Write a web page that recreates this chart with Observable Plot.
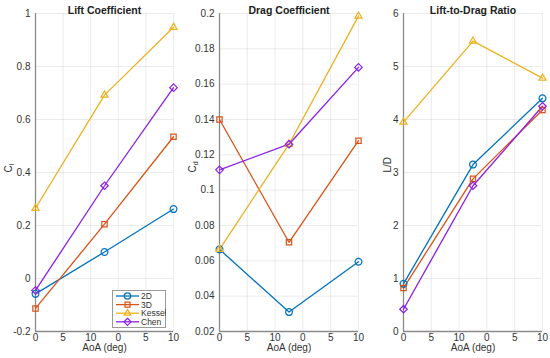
<!DOCTYPE html>
<html>
<head>
<meta charset="utf-8">
<script src="https://cdn.jsdelivr.net/npm/d3@7"></script>
<script src="https://cdn.jsdelivr.net/npm/@observablehq/plot@0.6"></script>
<style>
  html, body { margin: 0; padding: 0; background: #fff; }
  #wrap { position: relative; width: 550px; height: 358px; overflow: hidden; font-family: "Liberation Sans", Arial, sans-serif; }
  #wrap svg { position: absolute; top: 0; }
</style>
</head>
<body>
<div id="wrap"></div>
<script>
// ---- data ----
const seriesNames = ["2D", "3D", "Kessel", "Chen"];
const seriesColors = ["#0072BD", "#D95319", "#EDB120", "#8B1FE6"];
const seriesSymbols = ["circle", "square2", "triangle2", "diamond2"];
const xPositions = [0, 12.5, 25];
const xTicks = [0, 5, 10, 15, 20, 25];
const xTickLabels = ["0", "5", "10", "0", "5", "10"];

const lift2D = [-0.058, 0.100, 0.262];
const lift3D = [-0.113, 0.205, 0.535];
const liftKessel = [0.265, 0.692, 0.948];
const liftChen = [-0.045, 0.350, 0.720];

const drag2D = [0.0665, 0.031, 0.0595];
const drag3D = [0.140, 0.0705, 0.128];
const dragKessel = [0.0665, 0.126, 0.1985];
const dragChen = [0.1115, 0.126, 0.1695];

const ld2D = [0.90, 3.15, 4.40];
const ld3D = [0.82, 2.88, 4.18];
const ldKessel = [3.95, 5.48, 4.78];
const ldChen = [0.42, 2.75, 4.25];

const liftTicks = [-0.2, 0, 0.2, 0.4, 0.6, 0.8, 1];
const dragTicks = [0.02, 0.04, 0.06, 0.08, 0.1, 0.12, 0.14, 0.16, 0.18, 0.2];
const ldTicks = [0, 1, 2, 3, 4, 5, 6];

function table(arrs) {
  const rows = [];
  arrs.forEach((vals, si) => vals.forEach((v, i) => rows.push({x: xPositions[i], y: v, s: seriesNames[si]})));
  return rows;
}

const wrap = document.getElementById("wrap");

function panel({left, width, mL, mR, data, yDomain, yTicks, title, ylabel, ylabelDx}) {
  const rows = table(data);
  const yMin = yDomain[0];
  const svg = Plot.plot({
    width, height: 358,
    marginLeft: mL, marginRight: mR, marginTop: 13, marginBottom: 27,
    style: {fontFamily: "Liberation Sans, Arial, sans-serif", fontSize: "10px", color: "#333", background: "transparent", overflow: "visible"},
    x: {domain: [0, 25], ticks: xTicks, tickFormat: (d) => xTickLabels[xTicks.indexOf(d)], label: null, tickSize: 0, tickPadding: 2},
    y: {domain: yDomain, ticks: yTicks, tickFormat: (d) => String(+d.toFixed(4)), label: null, tickSize: 0, tickPadding: 5},
    color: {domain: seriesNames, range: seriesColors},
    symbol: {domain: seriesNames, range: seriesSymbols},
    marks: [
      Plot.gridX(xTicks, {stroke: "#000", strokeOpacity: 0.08}),
      Plot.gridY(yTicks, {stroke: "#000", strokeOpacity: 0.08}),
      Plot.ruleX([0], {stroke: "#8a8a8a", strokeWidth: 1.3}),
      Plot.ruleY([yMin], {stroke: "#8a8a8a", strokeWidth: 1.3}),
      Plot.line(rows, {x: "x", y: "y", z: "s", stroke: "s", strokeWidth: 1.3}),
      Plot.dot(rows, {x: "x", y: "y", stroke: "s", symbol: "s", r: 3.4, strokeWidth: 1.2, fill: "none"}),
      Plot.text([title], {frameAnchor: "top", dy: -7, fontWeight: "bold", fontSize: 10.5, fill: "#222"}),
      Plot.text(["AoA (deg)"], {frameAnchor: "bottom", dy: 19, fontSize: 10, fill: "#333"}),
      Plot.text([ylabel], {frameAnchor: "left", dx: ylabelDx, rotate: -90, fontSize: 10, fill: "#333"})
    ]
  });
  svg.style.left = left + "px";
  // subscripts for C_l / C_d
  d3.select(svg).selectAll("text").each(function () {
    const t = this.textContent;
    if (t === "C_l" || t === "C_d") {
      const el = d3.select(this);
      el.text("C");
      el.append("tspan").attr("font-size", 7).attr("dy", "0.35em").text(t.slice(2));
    }
  });
  wrap.appendChild(svg);
  return svg;
}

panel({left: 0, width: 185, mL: 35, mR: 12, data: [lift2D, lift3D, liftKessel, liftChen], yDomain: [-0.2, 1], yTicks: liftTicks, title: "Lift Coefficient", ylabel: "C_l", ylabelDx: -27});
panel({left: 185, width: 182, mL: 34, mR: 9, data: [drag2D, drag3D, dragKessel, dragChen], yDomain: [0.02, 0.2], yTicks: dragTicks, title: "Drag Coefficient", ylabel: "C_d", ylabelDx: -27});
panel({left: 367, width: 183, mL: 36, mR: 8, data: [ld2D, ld3D, ldKessel, ldChen], yDomain: [0, 6], yTicks: ldTicks, title: "Lift-to-Drag Ratio", ylabel: "L/D", ylabelDx: -16});

// ---- legend (in first panel) ----
const leg = d3.select(wrap).append("svg")
  .attr("width", 54).attr("height", 38)
  .style("left", "112px").style("top", "290px");
leg.append("rect").attr("x", 0.5).attr("y", 0.5).attr("width", 53).attr("height", 37)
  .attr("fill", "#fff").attr("stroke", "#9a9a9a").attr("stroke-width", 1);
const symMap = {circle: d3.symbolCircle, square2: d3.symbolSquare2, triangle2: d3.symbolTriangle2, diamond2: d3.symbolDiamond2};
seriesNames.forEach((name, i) => {
  const y = 6 + i * 8.6;
  const g = leg.append("g").attr("transform", `translate(0,${y})`);
  g.append("line").attr("x1", 4).attr("x2", 27).attr("y1", 0).attr("y2", 0)
    .attr("stroke", seriesColors[i]).attr("stroke-width", 1.3);
  g.append("path").attr("transform", "translate(15.5,0)")
    .attr("d", d3.symbol(symMap[seriesSymbols[i]], Math.PI * 3.2 * 3.2)())
    .attr("fill", "none").attr("stroke", seriesColors[i]).attr("stroke-width", 1.2);
  g.append("text").attr("x", 29).attr("y", 0).attr("dy", "0.35em")
    .attr("font-size", 8.5).attr("fill", "#333")
    .attr("font-family", "Liberation Sans, Arial, sans-serif").text(name);
});
</script>
</body>
</html>
